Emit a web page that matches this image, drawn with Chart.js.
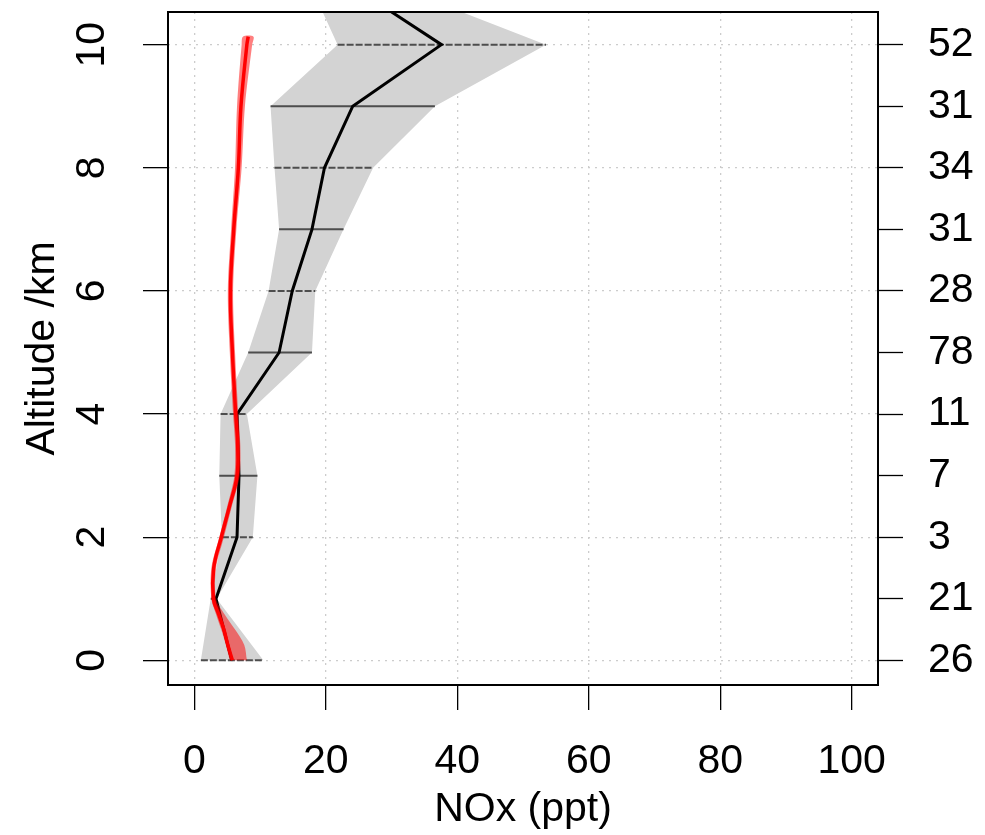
<!DOCTYPE html>
<html>
<head>
<meta charset="utf-8">
<title>NOx altitude profile</title>
<script src="https://cdn.jsdelivr.net/npm/chart.js@4.4.0/dist/chart.umd.min.js"></script>
<style>
    html, body { margin: 0; padding: 0; background: #fff; }
    #wrap { width: 985px; height: 835px; }
</style>
</head>
<body>
<div id="wrap"><canvas id="nox-profile-chart" width="985" height="835"></canvas></div>
<script>
// binned observations, one entry per altitude level (km)
const altitudes = [0, 1, 2, 3, 4, 5, 6, 7, 8, 9, 10, 11];
const medianNox = [5.7, 3.3, 6.5, 6.8, 6.5, 12.9, 14.9, 17.9, 19.8, 24.1, 37.6, 23.3];
const bandLow = [1.0, 2.5, 4.2, 3.8, 4.0, 8.2, 11.3, 12.9, 12.2, 11.6, 21.8, 17.5];
const bandHigh = [10.5, 3.4, 8.9, 9.6, 8.0, 17.9, 18.4, 22.7, 27.2, 36.6, 53.5, 29.3];

// number of samples in each level, shown on the right axis (0 .. 10 km)
const sampleCounts = ['26', '21', '3', '7', '11', '78', '28', '31', '34', '31', '52'];

// model profile
const modelAlt = [0, 0.25, 0.5, 0.75, 1, 1.5, 2, 2.5, 3, 3.5, 4, 5, 6, 7, 8, 9, 10, 10.13];
const modelNox = [5.8, 5.1, 4.5, 3.7, 2.9, 2.95, 4.1, 5.35, 6.5, 6.6, 6.3, 5.8, 5.5, 6.0, 6.7, 7.1, 8.0, 8.2];
const modelLow = [5.4, 4.8, 4.1, 3.3, 2.6, 2.6, 3.8, 5.0, 6.1, 6.2, 5.9, 5.4, 5.1, 5.6, 6.2, 6.5, 7.2, 7.4];
const modelHigh = [8.0, 7.6, 6.2, 4.6, 3.3, 3.3, 4.5, 5.7, 6.9, 7.0, 6.7, 6.2, 5.9, 6.4, 7.2, 7.7, 8.8, 9.0];

const xTicks = [0, 20, 40, 60, 80, 100];
const yTicks = [0, 2, 4, 6, 8, 10];
const countTicks = [0, 1, 2, 3, 4, 5, 6, 7, 8, 9, 10];

(function() {
    'use strict';

    const FONT = 'Liberation Sans, Arial, Helvetica, sans-serif';
    const SIZE = 41;

    /**
     * Closed polygon: low edge going up, high edge coming back down
     */
    function bandPolygon(ys, low, high) {
        const pts = ys.map((y, i) => ({x: low[i], y: y}));
        for (let i = ys.length - 1; i >= 0; i--) {
            pts.push({x: high[i], y: ys[i]});
        }
        return pts;
    }

    /**
     * Horizontal range bars, split by null points
     */
    function rangeBars(even) {
        const pts = [];
        altitudes.forEach((alt, i) => {
            if (alt > 10 || (alt % 2 === 0) !== even) return;
            pts.push({x: bandLow[i], y: alt}, {x: bandHigh[i], y: alt}, {x: null, y: null});
        });
        return pts;
    }

    // box round the plot region
    const plotBox = {
        id: 'plotBox',
        afterDatasetsDraw(chart) {
            const {ctx, chartArea: a} = chart;
            ctx.save();
            ctx.strokeStyle = '#000';
            ctx.lineWidth = 2;
            ctx.strokeRect(a.left, a.top, a.right - a.left, a.bottom - a.top);
            ctx.restore();
        }
    };

    const fixTicks = values => scale => {
        scale.ticks = values.map(v => ({value: v}));
    };

    // fixed width, and no extra room asked for the end labels
    const fixWidth = w => scale => {
        scale.width = w;
        scale.paddingTop = 0;
        scale.paddingBottom = 0;
    };

    const ctx = document.getElementById('nox-profile-chart');

    new Chart(ctx, {
        type: 'scatter',
        data: {
            datasets: [
                {
                    // model line
                    data: modelAlt.map((y, i) => ({x: modelNox[i], y: y})),
                    showLine: true,
                    borderColor: '#ff0000',
                    borderWidth: 3.5,
                    tension: 0.4,
                    pointRadius: 0
                },
                {
                    // model spread
                    data: bandPolygon(modelAlt, modelLow, modelHigh),
                    showLine: true,
                    borderWidth: 0,
                    borderColor: 'rgba(0,0,0,0)',
                    backgroundColor: 'rgba(255,0,0,0.5)',
                    fill: 'shape',
                    tension: 0.3,
                    pointRadius: 0
                },
                {
                    // observed median
                    data: altitudes.map((y, i) => ({x: medianNox[i], y: y})),
                    showLine: true,
                    borderColor: '#000000',
                    borderWidth: 3,
                    tension: 0,
                    pointRadius: 0
                },
                {
                    data: rangeBars(false),
                    showLine: true,
                    spanGaps: false,
                    borderColor: '#4d4d4d',
                    borderWidth: 2,
                    pointRadius: 0
                },
                {
                    data: rangeBars(true),
                    showLine: true,
                    spanGaps: false,
                    borderColor: '#4d4d4d',
                    borderWidth: 2,
                    borderDash: [7, 2],
                    pointRadius: 0
                },
                {
                    // observed spread
                    data: bandPolygon(altitudes, bandLow, bandHigh),
                    showLine: true,
                    borderWidth: 0,
                    borderColor: 'rgba(0,0,0,0)',
                    backgroundColor: '#d3d3d3',
                    fill: 'shape',
                    tension: 0,
                    pointRadius: 0
                }
            ]
        },
        options: {
            responsive: false,
            animation: false,
            devicePixelRatio: 1,
            layout: {padding: {top: 12, left: 0, right: 0, bottom: 0}},
            plugins: {
                legend: {display: false},
                tooltip: {enabled: false}
            },
            scales: {
                x: {
                    type: 'linear',
                    position: 'bottom',
                    min: -4,
                    max: 104,
                    afterBuildTicks: fixTicks(xTicks),
                    afterFit: scale => {
                        scale.height = 150;
                        scale.paddingLeft = 0;
                        scale.paddingRight = 0;
                    },
                    grid: {
                        color: '#cccccc',
                        lineWidth: 1.3,
                        tickLength: 25,
                        tickColor: '#000',
                        tickWidth: 1.3
                    },
                    border: {display: false, dash: [2, 5]},
                    ticks: {
                        color: '#000',
                        padding: 27,
                        maxRotation: 0,
                        font: {family: FONT, size: SIZE}
                    },
                    title: {
                        display: true,
                        text: 'NOx (ppt)',
                        color: '#000',
                        padding: {top: 0, bottom: 1},
                        font: {family: FONT, size: SIZE}
                    }
                },
                y: {
                    type: 'linear',
                    position: 'left',
                    min: -0.4,
                    max: 10.53,
                    afterBuildTicks: fixTicks(yTicks),
                    afterFit: fixWidth(168),
                    grid: {
                        color: '#cccccc',
                        lineWidth: 1.3,
                        tickLength: 25,
                        tickColor: '#000',
                        tickWidth: 1.3
                    },
                    border: {display: false, dash: [2, 5]},
                    ticks: {
                        color: '#000',
                        padding: 28,
                        minRotation: 90,
                        maxRotation: 90,
                        crossAlign: 'center',
                        font: {family: FONT, size: SIZE}
                    },
                    title: {
                        display: true,
                        text: 'Altitude /km',
                        color: '#000',
                        padding: {top: 18, bottom: 0},
                        font: {family: FONT, size: SIZE}
                    }
                },
                y2: {
                    type: 'linear',
                    position: 'right',
                    min: -0.4,
                    max: 10.53,
                    afterBuildTicks: fixTicks(countTicks),
                    afterFit: fixWidth(107),
                    grid: {
                        drawOnChartArea: false,
                        tickLength: 25,
                        tickColor: '#000',
                        tickWidth: 1.3
                    },
                    border: {display: false},
                    ticks: {
                        color: '#000',
                        padding: 25,
                        font: {family: FONT, size: SIZE},
                        callback: value => sampleCounts[value]
                    }
                }
            }
        },
        plugins: [plotBox]
    });
})();
</script>
</body>
</html>
